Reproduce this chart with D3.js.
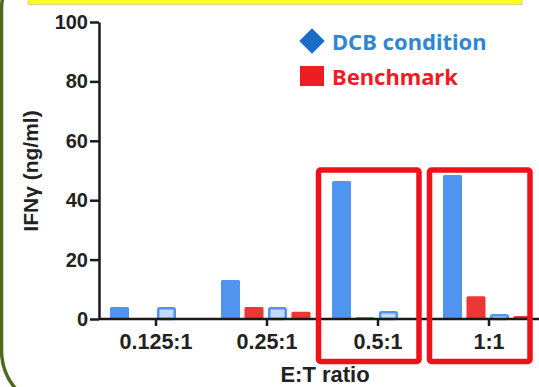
<!DOCTYPE html>
<html>
<head>
<meta charset="utf-8">
<script src="https://cdn.jsdelivr.net/npm/d3@7"></script>
<style>
  html, body { margin: 0; padding: 0; background: #fff; }
  svg { display: block; }
  .tick text { font-family: "Liberation Sans", Arial, sans-serif; font-weight: bold; }
</style>
</head>
<body>
<div id="chart"></div>
<script>
// categories and series values (ng/ml)
const categories = ['0.125:1', '0.25:1', '0.5:1', '1:1'];
const seriesKeys = ['dcb', 'benchmark', 'dcbAlt', 'benchmarkAlt'];
const dcbValues = [4.0, 13.1, 46.5, 48.5];
const benchmarkValues = [0, 4.0, 0.6, 7.7];
const dcbAltValues = [4.0, 4.0, 2.7, 1.7];
const benchmarkAltValues = [0, 2.4, 0.2, 1.0];
const yTicks = [0, 20, 40, 60, 80, 100];
const highlighted = ['0.5:1', '1:1'];
const legendItems = [
  { label: 'DCB condition', shape: 'diamond', color: '#1a6cc4', text: '#2f86d6' },
  { label: 'Benchmark', shape: 'square', color: '#ee1c25', text: '#ee1c25' }
];

const width = 539, height = 387;
const margin = { top: 22, right: 0, bottom: 68, left: 99 };

const data = categories.map((c, i) => ({
  category: c,
  dcb: dcbValues[i],
  benchmark: benchmarkValues[i],
  dcbAlt: dcbAltValues[i],
  benchmarkAlt: benchmarkAltValues[i]
}));

const styles = {
  dcb: { fill: '#4f95ef', stroke: 'none' },
  benchmark: { fill: '#ee3636', stroke: 'none' },
  dcbAlt: { fill: '#c4dbf7', stroke: '#4f95ef' },
  benchmarkAlt: { fill: '#ee3636', stroke: 'none' }
};

const svg = d3.select('#chart').append('svg')
  .attr('width', width)
  .attr('height', height);

// frame decorations from the slide
svg.append('rect')
  .attr('x', 1.5).attr('y', -50)
  .attr('width', 620).attr('height', 460)
  .attr('rx', 60)
  .attr('fill', 'none')
  .attr('stroke', '#4f6a1e')
  .attr('stroke-width', 3.5);

svg.append('rect')
  .attr('x', 28).attr('y', -6)
  .attr('width', 494).attr('height', 10.5)
  .attr('fill', '#ffff1a')
  .attr('stroke', '#c8c8a0')
  .attr('stroke-width', 0.8);

const y = d3.scaleLinear().domain([0, 100]).range([319, margin.top]);
const x0 = d3.scaleBand().domain(categories).range([100.5, 544.5]);
const x1 = d3.scaleBand().domain(seriesKeys).range([-46, 43.5]).paddingInner(0.19);

const outlined = k => styles[k].stroke !== 'none';

const groups = svg.append('g').selectAll('g')
  .data(data)
  .join('g')
  .attr('transform', d => `translate(${x0(d.category) + x0.bandwidth() / 2},0)`);

groups.selectAll('rect')
  .data(d => seriesKeys.map(k => ({ key: k, value: d[k] })))
  .join('rect')
  .attr('x', d => x1(d.key) + (outlined(d.key) ? 1.25 : 0))
  .attr('width', d => x1.bandwidth() - (outlined(d.key) ? 2.5 : 0))
  .attr('y', d => y(d.value) + (outlined(d.key) ? 1.25 : 0))
  .attr('height', d => Math.max(0, y(0) - y(d.value) - (outlined(d.key) ? 1.25 : 0)))
  .attr('rx', 1.5)
  .attr('fill', d => styles[d.key].fill)
  .attr('stroke', d => styles[d.key].stroke)
  .attr('stroke-width', 2.5);

// axes
const yAxis = svg.append('g')
  .attr('transform', `translate(${margin.left},0)`)
  .call(d3.axisLeft(y).tickValues(yTicks).tickSize(9).tickPadding(2).tickSizeOuter(0));

const xAxis = svg.append('g')
  .attr('transform', `translate(0,${y(0)})`)
  .call(d3.axisBottom(x0).tickSize(7).tickPadding(8).tickSizeOuter(0));

xAxis.select('.domain').attr('d', `M${margin.left},0H${width}`);

[yAxis, xAxis].forEach(a => {
  a.selectAll('.domain, .tick line').attr('stroke', '#1a1a1a').attr('stroke-width', 2.5);
  a.selectAll('.tick text').attr('fill', '#222').style('font-size', '20px');
});
xAxis.selectAll('.tick text').style('font-size', '21.5px');

// red highlight boxes around the two highest ratios
svg.append('g').selectAll('rect')
  .data(highlighted)
  .join('rect')
  .attr('x', d => x0(d) + x0.bandwidth() / 2 - 59.5)
  .attr('width', 100.5)
  .attr('y', 170)
  .attr('height', 191.5)
  .attr('rx', 2)
  .attr('fill', 'none')
  .attr('stroke', '#f0101a')
  .attr('stroke-width', 5.5);

// axis titles
svg.append('text')
  .attr('transform', `translate(38,171) rotate(-90)`)
  .attr('text-anchor', 'middle')
  .style('font-family', '"Liberation Sans", Arial, sans-serif')
  .style('font-weight', 'bold')
  .style('font-size', '21px')
  .attr('fill', '#222')
  .text('IFNγ (ng/ml)');

svg.append('text')
  .attr('x', 325).attr('y', 382)
  .attr('text-anchor', 'middle')
  .style('font-family', '"Liberation Sans", Arial, sans-serif')
  .style('font-weight', 'bold')
  .style('font-size', '22px')
  .attr('fill', '#222')
  .text('E:T ratio');

// legend
const legend = svg.append('g').selectAll('g')
  .data(legendItems)
  .join('g')
  .attr('transform', (d, i) => `translate(312,${41 + i * 35})`);

legend.filter(d => d.shape === 'diamond').append('rect')
  .attr('x', -9).attr('y', -9).attr('width', 18).attr('height', 18)
  .attr('transform', 'rotate(45)')
  .attr('fill', d => d.color);

legend.filter(d => d.shape === 'square').append('rect')
  .attr('x', -12).attr('y', -10).attr('width', 24).attr('height', 20)
  .attr('fill', d => d.color);

legend.append('text')
  .attr('x', 20).attr('y', 9)
  .style('font-family', '"Noto Sans", sans-serif')
  .style('font-weight', 'bold')
  .style('font-size', '22px')
  .attr('fill', d => d.text)
  .text(d => d.label);
</script>
</body>
</html>
